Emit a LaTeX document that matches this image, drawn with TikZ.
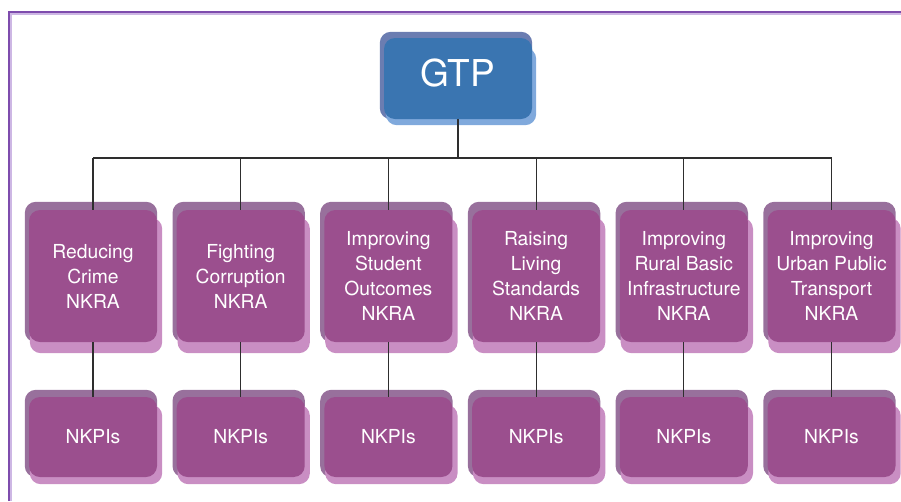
\documentclass[tikz,border=0pt]{standalone}
\usepackage{fontspec}
\setmainfont{TeX Gyre Heros}
\pgfdeclarelayer{bg}
\pgfsetlayers{bg,main}
\definecolor{pback}{HTML}{98709C}
\definecolor{pmain}{HTML}{9B4F8E}
\definecolor{pshad}{HTML}{C98EC3}
\definecolor{bback}{HTML}{6B7DB1}
\definecolor{bmain}{HTML}{3A75B1}
\definecolor{bshad}{HTML}{80A9DC}
\definecolor{framec}{HTML}{7E4CAD}
\definecolor{framelt}{HTML}{CDB7E4}
\definecolor{conn}{HTML}{2E2E2E}
\tikzset{
  kbox/.style={fill=pmain, rounded corners=11pt, minimum width=128pt, minimum height=132pt, inner sep=0pt, text=white, align=center, font=\fontsize{19.3}{25}\selectfont},
  pbox/.style={kbox, minimum height=80pt},
  gbox/.style={fill=bmain, rounded corners=11pt, minimum width=148pt, minimum height=81pt, inner sep=0pt, text=white, font=\fontsize{37}{40}\selectfont, text height=27pt, text depth=12pt},
  conline/.style={draw=conn, line width=1.2pt},
}
\begin{document}
\begin{tikzpicture}[x=1pt,y=-1pt]
\useasboundingbox (0,0) rectangle (901,501);
\draw[framelt, line width=1.5pt] (10.8,501) -- (10.8,13.8) -- (901,13.8);
\draw[framec, line width=2pt] (8.7,501) -- (8.7,11.7) -- (901,11.7);

\node[gbox] (gtp) at (458,78.5) {GTP};
\foreach \i/\t in {1/{Reducing\\Crime\\NKRA}, 2/{Fighting\\Corruption\\NKRA}, 3/{Improving\\Student\\Outcomes\\NKRA}, 4/{Raising\\Living\\Standards\\NKRA}, 5/{Improving\\Rural Basic\\Infrastructure\\NKRA}, 6/{Improving\\Urban Public\\Transport\\NKRA}} {
  \node[kbox] (k\i) at ({93+147.7*(\i-1)},276) {\t};
  \node[pbox] (p\i) at ({93+147.7*(\i-1)},437) {NKPIs};
}

\begin{pgfonlayer}{bg}
\fill[bback, rounded corners=11pt] ([xshift=-4pt,yshift=6pt]gtp.north west) rectangle (gtp.south east);
\fill[bshad, rounded corners=11pt] ([xshift=2pt,yshift=-10pt]gtp.north west) rectangle ([xshift=4pt,yshift=-6pt]gtp.south east);
\foreach \i in {1,...,6}{
  \fill[pback, rounded corners=11pt] ([xshift=-4pt,yshift=8pt]k\i.north west) rectangle (k\i.south east);
  \fill[pshad, rounded corners=11pt] ([xshift=1pt,yshift=-8pt]k\i.north west) rectangle ([xshift=5pt,yshift=-11pt]k\i.south east);
  \fill[pback, rounded corners=11pt] ([xshift=-4pt,yshift=7pt]p\i.north west) rectangle (p\i.south east);
  \fill[pshad, rounded corners=11pt] ([xshift=1pt,yshift=-8pt]p\i.north west) rectangle ([xshift=5pt,yshift=-7pt]p\i.south east);
}
\draw[conline] (gtp.south) -- (gtp.south |- 0,158);
\end{pgfonlayer}

\coordinate (bus) at (458,158);
\draw[conline] (k1.north |- bus) -- (k6.north |- bus);
\foreach \i in {1,...,6}{
  \draw[conline] (k\i.north |- bus) -- (k\i.north);
  \draw[conline] (k\i.south) -- (p\i.north);
}
\end{tikzpicture}
\end{document}
